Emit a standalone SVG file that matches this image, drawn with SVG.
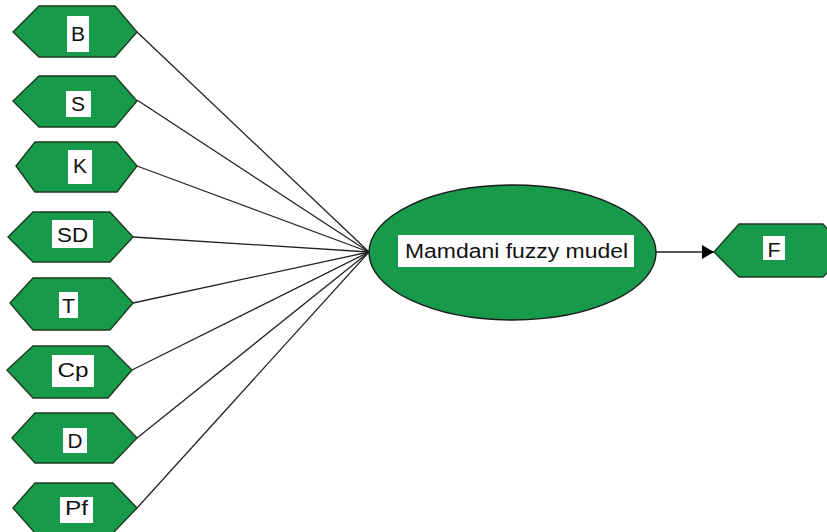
<svg xmlns="http://www.w3.org/2000/svg" width="827" height="532" viewBox="0 0 827 532">
<style>
.hex{fill:#179a49;stroke:#1d3b22;stroke-width:1.4}
.ell{fill:#179a49;stroke:#1a1a1a;stroke-width:1.4}
.lbl{fill:#ffffff}
.t{font-family:"Liberation Sans",Arial,sans-serif;font-size:20px;fill:#111111;text-anchor:middle}
.c{stroke:#222222;stroke-width:1.3;fill:none}
</style>
<defs>
<marker id="arr" viewBox="0 0 12 14" refX="12" refY="7" markerWidth="12" markerHeight="14" markerUnits="userSpaceOnUse" orient="auto">
<path d="M0,0 L12,7 L0,14 Z" fill="#000000"/>
</marker>
</defs>
<rect width="827" height="532" fill="#ffffff"/>
<g id="connectors">
<line class="c" x1="137" y1="32" x2="369" y2="252"/>
<line class="c" x1="137" y1="100" x2="369" y2="252"/>
<line class="c" x1="137" y1="166" x2="369" y2="252"/>
<line class="c" x1="133" y1="237" x2="369" y2="252"/>
<line class="c" x1="133" y1="303" x2="369" y2="252"/>
<line class="c" x1="132" y1="370" x2="369" y2="252"/>
<line class="c" x1="137" y1="438" x2="369" y2="252"/>
<line class="c" x1="137" y1="508" x2="369" y2="252"/>
<line class="c" x1="656" y1="252" x2="714" y2="252" marker-end="url(#arr)"/>
</g>
<g id="node-B">
<polygon class="hex" points="13,32 39,6 115,6 137,32 115,57 39,57"/>
<rect class="lbl" x="67" y="16" width="22" height="36"/>
<text class="t" x="78" y="41" textLength="14" lengthAdjust="spacingAndGlyphs">B</text>
</g>
<g id="node-S">
<polygon class="hex" points="13,101 39,76 115,76 137,101 115,127 39,127"/>
<rect class="lbl" x="66" y="91" width="25" height="26"/>
<text class="t" x="78" y="111" textLength="14" lengthAdjust="spacingAndGlyphs">S</text>
</g>
<g id="node-K">
<polygon class="hex" points="16,166 35,142 117,142 137,166 117,192 35,192"/>
<rect class="lbl" x="68" y="150" width="24" height="34"/>
<text class="t" x="80" y="173" textLength="14" lengthAdjust="spacingAndGlyphs">K</text>
</g>
<g id="node-SD">
<polygon class="hex" points="8,237 33,212 110,212 133,237 110,262 33,262"/>
<rect class="lbl" x="52" y="220" width="41" height="28"/>
<text class="t" x="72.5" y="242" textLength="31" lengthAdjust="spacingAndGlyphs">SD</text>
</g>
<g id="node-T">
<polygon class="hex" points="10,303 33,278 110,278 133,303 110,330 33,330"/>
<rect class="lbl" x="59" y="292" width="19" height="26"/>
<text class="t" x="68.5" y="313" textLength="13" lengthAdjust="spacingAndGlyphs">T</text>
</g>
<g id="node-Cp">
<polygon class="hex" points="7,370 33,346 108,346 132,370 108,398 33,398"/>
<rect class="lbl" x="52" y="355" width="42" height="32"/>
<text class="t" x="73" y="377" textLength="31" lengthAdjust="spacingAndGlyphs">Cp</text>
</g>
<g id="node-D">
<polygon class="hex" points="12,438 35,413 113,413 137,438 113,463 35,463"/>
<rect class="lbl" x="63" y="428" width="24" height="25"/>
<text class="t" x="75" y="448" textLength="15" lengthAdjust="spacingAndGlyphs">D</text>
</g>
<g id="node-Pf">
<polygon class="hex" points="13,508 35,483 113,483 137,508 113,533 35,533"/>
<rect class="lbl" x="60" y="497" width="33" height="26"/>
<text class="t" x="76.5" y="515" textLength="23" lengthAdjust="spacingAndGlyphs">Pf</text>
</g>
<g id="node-Mamdani">
<ellipse class="ell" cx="512.5" cy="252.5" rx="143.5" ry="67.5"/>
<rect class="lbl" x="398" y="235" width="236" height="32"/>
<text class="t" x="516.5" y="258" textLength="223" lengthAdjust="spacingAndGlyphs">Mamdani fuzzy mudel</text>
</g>
<g id="node-F">
<polygon class="hex" points="714,252 739,224 823,224 848,252 823,277 739,277"/>
<rect class="lbl" x="763" y="236" width="22" height="24"/>
<text class="t" x="774" y="257" textLength="13" lengthAdjust="spacingAndGlyphs">F</text>
</g>
</svg>
